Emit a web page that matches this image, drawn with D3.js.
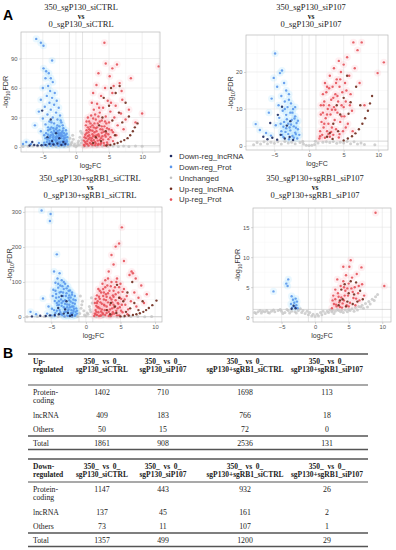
<!DOCTYPE html>
<html>
<head>
<meta charset="utf-8">
<script src="https://cdn.jsdelivr.net/npm/d3@7"></script>
<style>
  html, body { margin: 0; padding: 0; background: #fff; }
  svg { display: block; }
</style>
</head>
<body>
<div id="chart"></div>
<script>
// ---- categories / legend ----
const categories = ["Down-reg_lncRNA", "Down-reg_Prot", "Unchanged", "Up-reg_lncRNA", "Up-reg_Prot"]
const catColors = ["#1d2a62", "#5b97ec", "#c2c2c2", "#6e2a1c", "#e5525a"]

// ---- panel titles ----
const titles = [
    ["350_sgP130_siCTRL", "vs", "0_sgP130_siCTRL"],
    ["350_sgP130_siP107", "vs", "0_sgP130_siP107"],
    ["350_sgP130+sgRB1_siCTRL", "vs", "0_sgP130+sgRB1_siCTRL"],
    ["350_sgP130+sgRB1_siP107", "vs", "0_sgP130+sgRB1_siP107"],
]
const xTickValues = [-5, 0, 5, 10]
const yTickValues = [[0, 30, 60, 90], [0, 10, 20], [0, 100, 200, 300], [0, 5, 10, 15]]

// ---- volcano points [log2FC, -log10FDR] ----
const p1DownProt = [[-6.0,110],[-5.3,106],[-4.9,103],[-3.6,88],[-4.9,80],[-4.5,77],[-4.1,75],[-3.8,70],[-4.6,70],[-3.5,66],[-4.2,62],[-5.0,60],[-3.9,57],[-3.2,55],[-4.4,52],[-3.6,50],[-5.3,48],[-2.9,47],[-4.0,45],[-3.3,43],[-4.7,41],[-2.6,40],[-3.8,38],[-5.6,36],[-3.0,35],[-4.3,33],[-2.4,32],[-3.5,30],[-5.0,29],[-2.8,28],[-4.0,26],[-2.2,25],[-3.3,24],[-4.6,23],[-6.2,22],[-2.5,21],[-3.7,20],[-1.9,19],[-3.0,18],[-4.2,17],[-5.3,16],[-2.1,15],[-2.7,14],[-3.5,13],[-1.6,12],[-4.8,12],[-2.3,11],[-3.1,10],[-1.8,9],[-4.0,9],[-2.6,8],[-3.6,7],[-1.4,7],[-2.0,6],[-3.0,5],[-4.4,5],[-5.6,4],[-1.6,4],[-2.4,3],[-3.3,3],[-1.2,2.5],[-2.0,2],[-4.9,2],[-7.5,5],[-8.0,3],[-6.8,3],[-1.5,17],[-2.0,22],[-2.3,27],[-1.8,14],[-2.8,16],[-3.4,19],[-1.3,10],[-2.2,9],[-3.8,12],[-4.5,14],[-2.9,11],[-1.7,6],[-2.6,5],[-3.4,8],[-4.2,20],[-3.7,25],[-3.2,15],[-2.5,12],[-1.9,11],[-3.9,4],[-2.8,2],
    [-4.4,1.5],[-4.1,3.5],[-3.8,1.2],[-3.5,4.5],[-3.2,1.8],[-2.9,6.5],[-2.6,1.3],[-2.3,5.5],[-2.0,3.2],[-1.7,1.6],[-1.5,4.8],[-4.3,7.5],[-3.9,10.5],[-3.4,11.5],[-3.0,8.5],[-2.7,10],[-2.4,14],[-2.1,11.5],[-1.8,7.8],[-1.6,9.5],[-4.6,9],[-4.2,12.5],[-3.7,15],[-3.3,16.5],[-2.9,19.5],[-2.5,17],[-2.2,13],[-3.6,3.3],[-3.1,6.8],[-2.4,4.2],[-1.9,2.8],[-4.0,6.2],[-4.8,4.4],[-3.9,18],[-2.8,22],[-2.0,16.5],[-1.4,13.5],[-1.35,5.5],[-3.5,9.8],[-2.6,12.4]]
const p1DownLnc = [[-6.3,2],[-5.8,1.6],[-5.2,1.8],[-4.6,2.2],[-4.0,3],[-3.4,2.5],[-2.8,3.5],[-2.2,2],[-3.6,6],[-2.5,9],[-4.3,10],[-3.0,14],[-5.1,37],[-3.8,28],[-1.9,5],[-1.6,3],[-7.0,1.5],[-6.6,5]]
const p1Unchanged = [[-8.0,0.5],[-7.2,0.8],[-6.5,1.0],[-5.8,0.9],[-5.0,1.1],[-4.3,0.7],[-3.6,1.0],[-3.0,0.6],[-2.4,0.9],[-1.8,0.5],[-1.2,0.8],[-0.8,2],[-0.6,5],[-0.4,8],[-0.2,3],[0,0.3],[0.2,1.5],[0.4,6],[0.6,10],[0.8,4],[0.9,14],[1.2,0.6],[1.8,0.9],[2.5,1.0],[3.2,0.7],[4.0,1.1],[4.8,0.8],[5.6,1.0],[6.4,0.5],[7.2,0.9],[8.0,0.6],[9.0,1.0],[10.0,0.8],[-0.9,9],[-0.5,12],[0.5,2],[0.7,16],[-0.7,3.5],[0.3,4],[-0.3,1.2],[0.9,7]]
const p1UpProt = [[1.2,2],[1.4,5],[1.5,9],[1.6,14],[1.7,3],[1.8,20],[1.9,8],[2.0,26],[2.0,12],[2.1,4],[2.2,17],[2.3,32],[2.3,7],[2.5,22],[2.5,2],[2.6,11],[2.7,38],[2.8,15],[2.9,5],[3.0,28],[3.0,19],[3.1,9],[3.2,44],[3.3,24],[3.4,13],[3.4,3],[3.6,35],[3.6,7],[3.7,18],[3.8,52],[3.9,27],[4.0,11],[4.1,40],[4.2,4],[4.3,21],[4.4,60],[4.5,31],[4.6,14],[4.8,47],[4.9,8],[5.0,25],[5.1,72],[5.2,36],[5.4,17],[5.5,55],[5.6,6],[5.8,30],[6.0,42],[6.1,12],[6.3,22],[6.6,65],[6.8,34],[7.0,48],[7.2,18],[7.5,28],[8.0,38],[8.3,70],[9.0,25],[10.0,34],[12.5,82],[4.3,106],[4.5,85],[5.5,80],[6.2,84],[3.4,75],[2.4,45],[1.5,22],[1.8,30],[2.6,55],[3.1,63],[1.3,10],[1.6,17],[2.9,33],[3.5,40],[4.7,19],[5.3,45],[2.2,24],[3.8,9],[4.4,26],[5.7,62],[6.9,57],[1.9,15],[2.4,6],[3.2,12],[2.7,20],
    [1.3,1.2],[1.5,3.5],[1.7,6],[1.9,1.5],[2.1,9.5],[2.3,3],[2.5,13],[2.7,7],[2.9,1.8],[3.1,16],[3.3,6.5],[3.5,11],[3.7,2.5],[3.9,14.5],[4.1,7.5],[4.3,1.6],[4.5,10.5],[4.7,4.5],[4.9,13],[1.4,12.5],[1.8,11],[2.2,20.5],[2.4,9],[2.8,24],[3.0,3.5],[3.2,20],[3.6,26],[3.9,21],[4.2,15.5],[4.6,24],[5.0,18],[2.0,18],[2.6,29],[3.4,31],[1.6,26],[2.5,16.5],[3.8,4],[4.4,12],[1.2,6.5],[2.9,11.5],[3.3,2],[4.0,17.8],[4.8,2.5],[5.2,10],[5.6,15]]
const p1UpLnc = [[4.6,1.5],[5.2,2],[5.8,3],[6.3,4],[6.8,5.5],[7.3,7],[7.8,9],[8.2,12],[8.6,16],[8.9,20],[9.3,24],[3.0,10],[3.5,22],[4.0,30],[4.5,16],[5.0,42],[5.5,27],[6.0,55],[6.5,35],[7.0,25],[5.3,60],[4.2,50],[6.6,62],[7.5,45],[3.8,6],[2.6,4],[5.9,12],[8.0,31]]

const p2DownProt = [[-4.9,25],[-3.9,20.4],[-4.2,19.7],[-5.1,18.4],[-3.6,17],[-4.6,16],[-3.3,15],[-2.9,14],[-4.0,13.5],[-5.4,12.8],[-3.5,12],[-2.6,11.5],[-4.4,11],[-3.1,10.5],[-2.3,10],[-3.8,9.5],[-5.8,9],[-2.7,9],[-3.3,8.4],[-2.0,8],[-4.3,7.6],[-2.5,7],[-3.6,6.5],[-1.8,6.2],[-3.0,6],[-4.8,5.6],[-2.2,5.3],[-3.3,4.8],[-1.6,4.5],[-2.7,4.2],[-4.0,4],[-2.0,3.6],[-3.0,3.2],[-1.4,3],[-2.4,2.7],[-3.7,2.4],[-1.7,2],[-2.9,1.8],[-7.7,5.9],[-7.1,4.3],[-6.2,3.5],[-5.5,2.8],[-2.1,7.4],[-1.9,4.9],[-2.6,5.8],[-3.4,3.8],
    [-3.7,5.2],[-3.2,7.2],[-2.8,5],[-2.4,9],[-1.9,3.2],[-3.9,3],[-2.2,2.2],[-3.5,10],[-1.6,6.8],[-2.9,12.5],[-4.1,6],[-2.0,10.5]]
const p2DownLnc = [[-6.6,2.5],[-6.0,1.8],[-5.3,2.2],[-4.6,1.7],[-4.1,3],[-3.5,2],[-2.8,2.4],[-2.3,1.6],[-3.2,5.5],[-4.5,8.4],[-2.7,6.7],[-3.9,10.6],[-5.6,6.2]]
const p2Unchanged = [[-8,0.3],[-7,0.5],[-6,0.6],[-5,0.7],[-4,0.5],[-3,0.8],[-2,0.6],[-1.3,0.9],[-0.8,0.5],[-0.4,0.2],[0,0.1],[0.4,0.2],[0.8,0.4],[1.3,0.8],[2,1],[3,0.9],[4,0.7],[5,0.8],[6,0.6],[7,0.5],[8,0.4],[9.5,0.3],[-0.9,1.2],[0.9,1.3],[-6.5,1.1],[6.5,1.1],[3.5,1.2],[-3.5,1.2],[-7.5,0.9],[-5.5,1.0],[-4.5,1.1],[-2.5,1.0],[2.5,1.1],[4.5,1.0],[5.5,1.2],[7.5,0.8]]
const p2UpProt = [[1.5,2],[1.6,4],[1.8,6.5],[1.9,3],[2.0,9],[2.1,5],[2.2,12],[2.3,2.2],[2.4,7.5],[2.5,14.5],[2.6,4],[2.7,10],[2.8,6],[2.9,15.6],[3.0,2.5],[3.1,8.5],[3.2,12.5],[3.3,5],[3.4,16],[3.5,3],[3.6,10.5],[3.7,7],[3.8,14],[3.9,4.5],[4.0,18],[4.1,9],[4.2,12],[4.3,2.3],[4.4,16],[4.5,6.5],[4.6,20],[4.7,11],[4.8,14.5],[4.9,4],[5.0,22],[5.1,8],[5.2,17],[5.3,12],[5.5,24],[5.6,6],[5.8,19],[6.0,14],[6.2,9.5],[6.4,28],[6.6,21],[7.0,25.9],[7.6,28],[7.3,17],[8.0,11],[9.9,19.7],[10.8,22.6],[1.7,8.5],[2.1,11],[2.6,16],[3.0,19],[3.6,21],[4.3,23],[5.4,15],[6.3,4],
    [1.7,11],[2.0,14],[2.3,17],[2.6,8.5],[2.9,11],[3.2,3.8],[3.5,13],[3.8,9.8],[4.1,13.5],[4.4,3.2],[4.7,8],[5.0,10.5],[1.6,2.6],[2.2,6],[2.8,3.2],[3.3,9.8],[3.9,17],[4.5,18],[5.3,5],[5.9,11]]
const p2UpLnc = [[5.0,1.5],[5.6,2],[6.2,2.6],[6.7,3.4],[7.2,4.5],[7.7,6],[8.1,7.5],[8.5,9.5],[8.8,11.5],[9.1,13.5],[3.0,3.5],[3.5,6],[4.0,11],[4.5,8.5],[5.0,13],[5.5,19],[6.0,11.8],[4.2,4],[3.4,1.9],[2.6,2.5],[6.8,16],[5.7,8.7],[7.4,11]]

const p3DownProt = [[-6.4,304],[-5.1,294],[-5.2,274],[-4.2,179],[-6.2,53],[-8.0,15],[-7.2,8],[-4.6,130],[-3.8,125],[-4.1,110],[-3.5,105],[-4.4,98],[-3.0,95],[-3.7,90],[-2.6,88],[-4.0,84],[-3.2,80],[-4.7,78],[-2.3,76],[-3.6,72],[-2.8,68],[-4.3,66],[-2.0,64],[-3.3,60],[-3.9,57],[-2.5,55],[-1.8,50],[-3.0,48],[-4.5,46],[-2.2,44],[-3.5,40],[-1.6,38],[-2.7,36],[-4.1,34],[-2.0,30],[-3.2,28],[-1.4,25],[-2.5,22],[-3.8,20],[-1.8,18],[-2.9,15],[-4.4,12],[-1.3,10],[-2.2,8],[-3.4,6],[-1.6,4],[-2.6,3],[-5.0,5],[-5.6,10],[-4.9,24],[-2.4,62],[-3.0,38],[-1.9,12],[-2.7,28],[-3.6,50],[-4.2,40],[-1.5,15],[-2.1,20],[-3.1,15],[-2.4,35],[-3.3,70],[-4.8,60],[-5.4,30],
    [-4.5,3],[-4.2,18],[-3.9,35],[-3.6,8],[-3.3,45],[-3.0,25],[-2.7,5],[-2.4,48],[-2.1,12],[-1.8,30],[-1.5,6],[-1.3,18],[-4.3,55],[-3.8,70],[-3.4,88],[-2.9,60],[-2.5,75],[-2.2,56],[-1.9,40],[-1.7,24],[-1.5,48],[-3.7,14],[-3.1,2],[-2.6,18],[-2.0,2],[-4.0,95],[-3.2,100],[-2.8,82],[-4.6,20],[-3.5,32],[-2.3,28],[-1.6,60],[-2.0,70],[-3.9,45],[-4.4,75]]
const p3DownLnc = [[-6.6,4],[-5.8,3],[-5.2,5],[-4.5,6],[-3.9,8],[-3.2,10],[-2.6,12],[-2.0,6],[-4.0,26],[-3.0,22],[-2.8,45],[-3.5,60],[-7.8,2],[-2.3,3]]
const p3Unchanged = [[-8.5,1],[-7,2],[-6,1.5],[-5,2.5],[-4,1.5],[-3,2],[-2,1.5],[-1.2,2],[-0.9,10],[-0.7,25],[-0.5,45],[-0.3,18],[0,3],[0.3,8],[0.5,30],[0.7,15],[0.9,40],[1.5,2],[2.5,1.5],[3.5,2],[4.5,1.5],[5.5,1],[6.5,2],[7.5,1.5],[8.5,1],[9.5,2],[-0.8,60],[0.8,55],[-0.6,35],[0.6,22],[-0.2,6],[0.2,12]]
const p3UpProt = [[1.2,3],[1.3,10],[1.4,20],[1.5,32],[1.6,6],[1.7,45],[1.8,14],[1.9,58],[2.0,25],[2.1,4],[2.2,70],[2.3,38],[2.4,12],[2.5,80],[2.6,50],[2.7,20],[2.8,6],[2.9,65],[3.0,30],[3.1,90],[3.2,42],[3.3,15],[3.4,75],[3.5,55],[3.6,3],[3.7,100],[3.8,25],[3.9,62],[4.0,35],[4.1,10],[4.2,85],[4.3,48],[4.4,18],[4.5,110],[4.6,40],[4.7,70],[4.8,5],[4.9,28],[5.0,95],[5.1,52],[5.3,14],[5.5,80],[5.7,35],[5.9,60],[6.1,22],[6.3,120],[6.5,45],[6.8,125],[7.0,70],[7.3,30],[7.6,55],[8.0,90],[8.4,40],[8.8,65],[5.2,256],[4.8,210],[4.3,201],[3.7,177],[6.6,130],[4.0,150],[5.5,160],[2.8,105],[3.3,130],[7.2,110],[1.4,8],[1.8,28],[2.2,16],[2.6,35],[3.0,12],[3.5,22],[4.0,58],[1.6,40],[2.0,52],[2.5,60],[3.2,68],[3.8,8],
    [1.3,40],[1.5,15],[1.7,28],[1.9,3],[2.1,42],[2.3,22],[2.5,8],[2.7,33],[2.9,48],[3.1,20],[3.3,3],[3.5,35],[3.7,50],[3.9,14],[4.1,28],[4.3,65],[4.5,5],[4.7,38],[4.9,55],[5.1,18],[5.3,72],[1.6,62],[2.0,75],[2.4,95],[2.8,85],[3.2,110],[3.6,88],[4.0,75],[4.4,100],[4.8,85],[5.2,35],[1.4,52],[2.2,5],[3.0,58],[3.8,42],[4.6,25],[5.6,50],[6.0,8],[1.8,80],[2.6,70]]
const p3UpLnc = [[5.0,2],[5.6,3],[6.2,4.5],[6.8,6],[7.3,8],[7.8,11],[8.3,15],[8.7,20],[9.1,26],[9.6,34],[10.2,47],[3.0,20],[3.6,40],[4.2,30],[4.8,55],[5.4,45],[6.0,70],[6.4,25],[7.0,40],[7.6,20],[8.2,45],[4.4,12],[3.5,8],[5.8,15],[4.5,92],[6.7,100]]

const p4DownProt = [[-6.2,4.3],[-4.3,5.6],[-4.1,5.2],[-4.0,6.3],[-3.5,3.5],[-3.3,2.9],[-3.1,2.4],[-2.9,3.1],[-2.8,2.0],[-3.6,2.2],[-3.0,1.7],[-2.6,1.5],[-3.4,1.6],[-2.7,2.6]]
const p4DownLnc = [[-3.2,1.9],[-2.9,1.5],[-3.5,1.4]]
const p4Unchanged = [[-9.0,0.8],[-8.5,0.9],[-8.0,0.7],[-7.5,0.9],[-7,0.8],[-6.5,1.0],[-6,0.9],[-5.5,1.1],[-5,1.0],[-4.5,0.8],[-4,1.1],[-3.5,1.0],[-3,0.9],[-2.5,1.1],[-2,0.8],[-1.5,0.6],[-1,0.4],[-0.5,0.2],[0,0.1],[0.5,0.2],[1,0.4],[1.5,0.6],[2,0.8],[2.5,0.9],[3,1.0],[3.5,1.1],[4,1.2],[4.5,1.2],[5,1.3],[5.5,1.4],[6,1.6],[6.5,1.8],[7,2.0],[7.5,2.3],[8,2.6],[8.5,3.0],[9,3.4],[9.3,3.8],[-2.2,1.4],[-1.2,1.0],[2.2,1.2],[1.2,1.0],[-0.8,0.8],[0.8,0.8],[3.3,1.3],[4.8,0.9],[6.3,1.2],[7.8,1.7],[-8.8,0.6],[-6.8,0.7],[-4.8,0.6],[-2.8,0.7],[2.8,0.6],[4.2,0.8],[5.8,1.0],[7.2,1.5],
    [-8.2,1.1],[-7.8,1.0],[-7.2,1.1],[-6.2,1.2],[-5.2,1.3],[-4.2,1.3],[-3.8,0.7],[-1.8,1.1],[-0.3,0.5],[0.3,0.5],[1.8,1.0],[2.6,1.2],[3.8,0.9],[5.2,1.1],[6.8,1.7],[8.2,2.2],[8.8,2.8]]
const p4UpProt = [[2.5,1.5],[2.8,2.2],[3.0,3.0],[3.2,1.8],[3.4,4.0],[3.6,2.5],[3.8,5.2],[3.9,3.3],[4.0,1.6],[4.2,6.0],[4.3,2.8],[4.5,4.4],[4.6,7.0],[4.7,2.0],[4.9,3.6],[5.0,5.6],[5.1,8.4],[5.3,9.5],[5.2,2.4],[5.4,4.8],[5.5,6.6],[5.7,3.2],[5.9,5.0],[6.0,2.0],[6.2,7.2],[6.4,4.0],[6.6,2.8],[6.9,8.3],[7.0,5.5],[7.3,3.6],[9.0,17.4],[10.3,5.2],[4.2,8.4],[3.3,6.3],[2.7,3.6],
    [2.6,2.8],[3.1,2.1],[3.5,3.4],[3.7,1.7],[4.1,2.3],[4.4,3.6],[4.8,4.8],[5.0,1.8],[5.6,4.2],[6.1,3.1],[6.5,5.2],[4.3,5.0],[3.0,4.6]]
const p4UpLnc = [[3.5,2.0],[3.9,4.6],[4.1,3.0],[4.4,5.5],[4.8,2.6],[5.0,4.0],[5.3,6.0],[5.6,2.2],[5.8,3.8],[6.1,5.8],[6.3,2.6],[6.7,4.4],[7.1,3.0],[4.6,1.8],[3.7,2.8]]

// ---- table B ----
const tableHeaders = [
    ["350_  vs  0_", "sgP130_siCTRL"],
    ["350_  vs  0_", "sgP130_siP107"],
    ["350_  vs  0_", "sgP130+sgRB1_siCTRL"],
    ["350_  vs  0_", "sgP130+sgRB1_siP107"],
]
const rowNames = [["Protein-", "coding"], ["lncRNA"], ["Others"], ["Total"]]
const upProtein = [1402, 710, 1698, 113]
const upLncRNA = [409, 183, 766, 18]
const upOthers = [50, 15, 72, 0]
const upTotal = [1861, 908, 2536, 131]
const downProtein = [1147, 443, 932, 26]
const downLncRNA = [137, 45, 161, 2]
const downOthers = [73, 11, 107, 1]
const downTotal = [1357, 499, 1200, 29]

// ---------------------------------------------------------------
const width = 396
const height = 550
const serif = "'Liberation Serif', 'Times New Roman', serif"
const sans = "'Liberation Sans', Arial, sans-serif"

const color = d3.scaleOrdinal().domain(categories).range(catColors)

const svg = d3.select("#chart").append("svg")
    .attr("width", width)
    .attr("height", height)
    .attr("viewBox", [0, 0, width, height])

// panel layout: plot box in px and axis domains
const panels = [
    {box: [21, 32, 160, 152], xDom: [-8.3, 12.7], yDom: [-5.1, 117], titleX: 81, titleY: 10,
     sets: [p1Unchanged, p1DownProt, p1UpProt, p1DownLnc, p1UpLnc]},
    {box: [246, 35, 388, 150], xDom: [-9.1, 11.4], yDom: [-1.1, 30], titleX: 311, titleY: 10,
     sets: [p2Unchanged, p2DownProt, p2UpProt, p2DownLnc, p2UpLnc]},
    {box: [25, 207, 162, 322], xDom: [-8.8, 11.0], yDom: [-14, 314], titleX: 90, titleY: 181,
     sets: [p3Unchanged, p3DownProt, p3UpProt, p3DownLnc, p3UpLnc]},
    {box: [253, 208, 391, 322], xDom: [-9.25, 11.3], yDom: [-0.8, 18.2], titleX: 315, titleY: 181,
     sets: [p4Unchanged, p4DownProt, p4UpProt, p4DownLnc, p4UpLnc]},
]
const setCats = ["Unchanged", "Down-reg_Prot", "Up-reg_Prot", "Down-reg_lncRNA", "Up-reg_lncRNA"]
const haze = {"Down-reg_Prot": "#7fd4ff", "Up-reg_Prot": "#ffa0b0"}

function midpoints(ticks) {
    let step = ticks[1] - ticks[0]
    let out = [ticks[0] - step / 2]
    ticks.forEach((t) => out.push(t + step / 2))
    return out
}

// text with a subscript part, e.g. log2FC
function subText(sel, parts, size) {
    let shift = 0
    parts.forEach(([txt, sub]) => {
        let dy = (sub ? size * 0.28 : 0) - shift
        shift = sub ? size * 0.28 : 0
        sel.append("tspan")
            .attr("font-size", sub ? size * 0.72 : size)
            .attr("dy", dy)
            .text(txt)
    })
}

panels.forEach((p, i) => {
    const [x0, y0, x1, y1] = p.box
    const x = d3.scaleLinear().domain(p.xDom).range([x0, x1])
    const y = d3.scaleLinear().domain(p.yDom).range([y1, y0])
    const g = svg.append("g")

    // title
    const t = g.append("text")
        .attr("font-family", serif)
        .attr("fill", "#222")
        .attr("text-anchor", "middle")
    titles[i].forEach((line, k) => {
        t.append("tspan")
            .attr("x", p.titleX)
            .attr("y", p.titleY + k * 8.7)
            .attr("font-weight", k === 1 ? "bold" : "normal")
            .attr("font-size", k === 1 ? 7.5 : 8.5)
            .text(line)
    })

    // grid
    const yt = yTickValues[i]
    g.append("g").selectAll("line").data(midpoints(xTickValues).filter((v) => x(v) > x0 && x(v) < x1))
        .join("line").attr("x1", (d) => x(d)).attr("x2", (d) => x(d)).attr("y1", y0).attr("y2", y1)
        .attr("stroke", "#f3f3f3").attr("stroke-width", 0.4)
    g.append("g").selectAll("line").data(midpoints(yt).filter((v) => y(v) > y0 && y(v) < y1))
        .join("line").attr("y1", (d) => y(d)).attr("y2", (d) => y(d)).attr("x1", x0).attr("x2", x1)
        .attr("stroke", "#f3f3f3").attr("stroke-width", 0.4)
    g.append("g").selectAll("line").data(xTickValues)
        .join("line").attr("x1", (d) => x(d)).attr("x2", (d) => x(d)).attr("y1", y0).attr("y2", y1)
        .attr("stroke", "#e4e4e4").attr("stroke-width", 0.6)
    g.append("g").selectAll("line").data(yt)
        .join("line").attr("y1", (d) => y(d)).attr("y2", (d) => y(d)).attr("x1", x0).attr("x2", x1)
        .attr("stroke", "#e4e4e4").attr("stroke-width", 0.6)

    // threshold lines
    g.append("g").selectAll("line").data([-1, 1])
        .join("line").attr("x1", (d) => x(d)).attr("x2", (d) => x(d)).attr("y1", y0).attr("y2", y1)
        .attr("stroke", "#d0d0d0").attr("stroke-width", 0.6)
    g.append("line").attr("x1", x0).attr("x2", x1).attr("y1", y(1.3)).attr("y2", y(1.3))
        .attr("stroke", "#bdbdbd").attr("stroke-width", 0.6)

    // points
    const clipId = "clip" + i
    g.append("clipPath").attr("id", clipId).append("rect")
        .attr("x", x0).attr("y", y0).attr("width", x1 - x0).attr("height", y1 - y0)
    const pts = g.append("g").attr("clip-path", `url(#${clipId})`)
    p.sets.forEach((set, k) => {
        const cat = setCats[k]
        if (haze[cat]) {
            pts.append("g").selectAll("circle").data(set).join("circle")
                .attr("cx", (d) => x(d[0])).attr("cy", (d) => y(d[1])).attr("r", 3.6)
                .attr("fill", haze[cat]).attr("opacity", 0.16)
        }
    })
    p.sets.forEach((set, k) => {
        const cat = setCats[k]
        pts.append("g").selectAll("circle").data(set).join("circle")
            .attr("cx", (d) => x(d[0])).attr("cy", (d) => y(d[1]))
            .attr("r", cat === "Unchanged" ? 1.5 : 1.2)
            .attr("fill", color(cat))
            .attr("opacity", cat === "Unchanged" ? 0.75 : 0.9)
    })

    // border
    g.append("rect").attr("x", x0).attr("y", y0).attr("width", x1 - x0).attr("height", y1 - y0)
        .attr("fill", "none").attr("stroke", "#b8b8b8").attr("stroke-width", 0.7)

    // axes
    const xa = g.append("g").attr("transform", `translate(0,${y1})`)
        .call(d3.axisBottom(x).tickValues(xTickValues).tickSize(2).tickPadding(1))
    const ya = g.append("g").attr("transform", `translate(${x0},0)`)
        .call(d3.axisLeft(y).tickValues(yt).tickSize(2).tickPadding(1.5))
    ;[xa, ya].forEach((a) => {
        a.select(".domain").remove()
        a.selectAll("line").attr("stroke", "#b8b8b8").attr("stroke-width", 0.6)
        a.selectAll("text").attr("font-family", sans).attr("font-size", 5.8).attr("fill", "#555")
    })

    // axis titles
    const xl = g.append("text").attr("x", (x0 + x1) / 2).attr("y", y1 + 15.5)
        .attr("text-anchor", "middle").attr("font-family", sans).attr("fill", "#333")
    subText(xl, [["log", false], ["2", true], ["FC", false]], 7)
    const yl = g.append("text")
        .attr("transform", `translate(${x0 - 13},${(y0 + y1) / 2}) rotate(-90)`)
        .attr("text-anchor", "middle").attr("font-family", sans).attr("fill", "#333")
    subText(yl, [["-log", false], ["10", true], ["FDR", false]], 7.2)
})

// legend
const legend = svg.append("g").attr("transform", "translate(171,156)")
legend.selectAll("g").data(categories).join("g")
    .attr("transform", (d, i) => `translate(0,${i * 10.9})`)
    .call((s) => {
        s.append("circle").attr("r", 1.3).attr("fill", (d) => color(d))
        s.append("text").attr("x", 8).attr("y", 2.8)
            .attr("font-family", sans).attr("font-size", 7.8).attr("fill", "#333")
            .text((d) => d)
    })

// panel letters
svg.append("text").attr("x", 3).attr("y", 20).attr("font-family", sans)
    .attr("font-weight", "bold").attr("font-size", 14).text("A")
svg.append("text").attr("x", 3).attr("y", 358).attr("font-family", sans)
    .attr("font-weight", "bold").attr("font-size", 14).text("B")

// ---- tables ----
const colX = [102, 163, 245, 327]
const tLeft = 28
const tRight = 368

function drawTable(top, headGap, label, rows) {
    const tg = svg.append("g")
        .attr("font-family", serif)
        .attr("font-size", 7.8)
        .attr("fill", "#222")
    const hline = (yy, w) => tg.append("line").attr("x1", tLeft).attr("x2", tRight)
        .attr("y1", yy).attr("y2", yy).attr("stroke", "#555").attr("stroke-width", w)

    hline(top, 1.4)
    label.forEach((l, k) => {
        tg.append("text").attr("x", 33).attr("y", top + 9.5 + k * 8.5)
            .attr("font-weight", "bold").attr("font-size", 7.5).text(l)
    })
    tableHeaders.forEach((h, c) => {
        h.forEach((l, k) => {
            tg.append("text").attr("x", colX[c]).attr("y", top + 9.5 + k * 8.5)
                .attr("text-anchor", "middle").attr("font-weight", "bold")
                .attr("font-size", 7.5).attr("xml:space", "preserve").text(l)
        })
    })
    const rowTop = top + headGap
    hline(rowTop, 1.2)
    const rowY = [rowTop + 9.5, rowTop + 32.5, rowTop + 46.5, rowTop + 60.5]
    rows.forEach((vals, r) => {
        rowNames[r].forEach((l, k) => {
            tg.append("text").attr("x", 33).attr("y", rowY[r] + k * 8.5).text(l)
        })
        tg.selectAll(null).data(vals).join("text")
            .attr("x", (d, c) => colX[c]).attr("y", rowY[r])
            .attr("text-anchor", "middle").text((d) => d)
    })
    hline(rowTop + 51, 1.4)
    hline(rowTop + 64.5, 1.4)
}

drawTable(354, 31, ["Up-", "regulated"], [upProtein, upLncRNA, upOthers, upTotal])
drawTable(459, 23, ["Down-", "regulated"], [downProtein, downLncRNA, downOthers, downTotal])
</script>
</body>
</html>
